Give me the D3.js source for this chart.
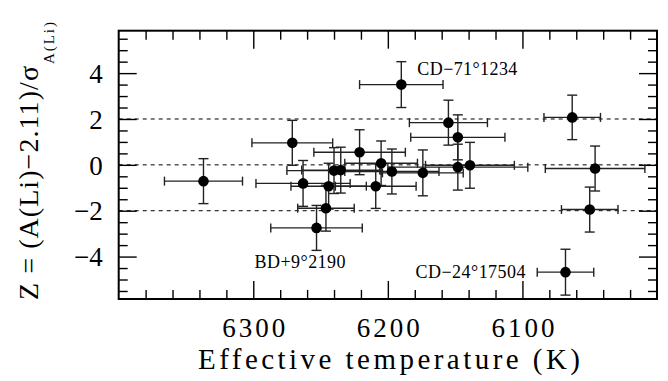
<!DOCTYPE html>
<html>
<head>
<meta charset="utf-8">
<script src="https://cdn.jsdelivr.net/npm/d3@7"></script>
<style>
  body { margin: 0; background: #fff; }
  svg { display: block; }
  text { font-family: "Liberation Serif", "Times New Roman", serif; fill: #000; }
</style>
</head>
<body>
<svg id="chart" width="668" height="381"></svg>
<script>
// effective temperature (K), Z value, and their errors
const teff  = [6337, 6271, 6190, 6221, 6205, 6197, 6240, 6235, 6263, 6244, 6209, 6246, 6253,
               6155, 6148, 6148, 6139, 6174, 6063, 6046, 6050, 6068];
const zval  = [-0.71, 0.96, 3.50, 0.55, 0.07, -0.29, -0.25, -0.23, -0.81, -0.93, -0.93, -1.89, -2.75,
               1.84, 1.20, -0.10, -0.02, -0.35, 2.07, -0.16, -1.95, -4.68];
const teffErr = [29, 30, 31, 34, 27, 35, 35, 29, 35, 28, 30, 21, 34,
                 29, 35, 52, 33, 30, 21, 37, 21, 21];
const zErr  = [0.98, 0.98, 1.0, 0.98, 0.97, 0.98, 1.0, 1.0, 1.0, 1.0, 0.97, 1.0, 0.98,
               0.98, 0.98, 1.0, 1.0, 1.0, 0.97, 0.98, 0.98, 1.0];

const xMajor = [6300, 6200, 6100];
const yMajor = [-4, -2, 0, 2, 4];
const refLines = [-2, 0, 2];

const labels = [
  { name: "CD\u221271\u00b01234", t: 6190, z: 3.50 },
  { name: "BD+9\u00b02190", t: 6253, z: -2.75 },
  { name: "CD\u221224\u00b017504", t: 6068, z: -4.68 }
];

const points = teff.map((t, i) => ({ t: t, z: zval[i], et: teffErr[i], ez: zErr[i] }));

const svg = d3.select("#chart");
const pLeft = 118.7, pRight = 657, pTop = 30.7, pBottom = 299;

const x = d3.scaleLinear().domain([6400, 6000]).range([pLeft, pRight]);
const y = d3.scaleLinear().domain([-5.85, 5.85]).range([pBottom, pTop]);

const minorX = d3.range(6000, 6401, 20).filter(v => v % 100 !== 0);
const minorY = d3.range(-5.5, 5.51, 0.5).filter(v => Math.abs(v % 2) > 0.01);

// reference dashed lines
svg.append("g")
  .selectAll("line")
  .data(refLines)
  .enter().append("line")
  .attr("x1", pLeft).attr("x2", pRight)
  .attr("y1", d => y(d)).attr("y2", d => y(d))
  .attr("stroke", "#000")
  .attr("stroke-width", 1)
  .attr("stroke-dasharray", "4,4");

function styleAxis(g) {
  g.select(".domain").remove();
  g.selectAll(".tick line").attr("stroke", "#000").attr("stroke-width", 1.4);
}

// major ticks with labels
svg.append("g")
  .attr("transform", `translate(0,${pBottom})`)
  .call(d3.axisBottom(x).tickValues(xMajor).tickSize(-18).tickPadding(18.5).tickFormat(d3.format("d")))
  .call(styleAxis)
  .selectAll("text")
  .attr("font-size", 27)
  .attr("textLength", 63)
  .attr("lengthAdjust", "spacing");

svg.append("g")
  .attr("transform", `translate(${pLeft},0)`)
  .call(d3.axisLeft(y).tickValues(yMajor).tickSize(-18).tickPadding(16).tickFormat(d3.format("d")))
  .call(styleAxis)
  .selectAll("text")
  .attr("font-size", 27)
  .attr("dy", "0.34em");

// mirrored majors and all minors
svg.append("g").attr("transform", `translate(0,${pTop})`)
  .call(d3.axisTop(x).tickValues(xMajor).tickSize(-18).tickFormat(""))
  .call(styleAxis);
svg.append("g").attr("transform", `translate(${pRight},0)`)
  .call(d3.axisRight(y).tickValues(yMajor).tickSize(-18).tickFormat(""))
  .call(styleAxis);
svg.append("g").attr("transform", `translate(0,${pBottom})`)
  .call(d3.axisBottom(x).tickValues(minorX).tickSize(-9).tickFormat(""))
  .call(styleAxis);
svg.append("g").attr("transform", `translate(0,${pTop})`)
  .call(d3.axisTop(x).tickValues(minorX).tickSize(-9).tickFormat(""))
  .call(styleAxis);
svg.append("g").attr("transform", `translate(${pLeft},0)`)
  .call(d3.axisLeft(y).tickValues(minorY).tickSize(-9).tickFormat(""))
  .call(styleAxis);
svg.append("g").attr("transform", `translate(${pRight},0)`)
  .call(d3.axisRight(y).tickValues(minorY).tickSize(-9).tickFormat(""))
  .call(styleAxis);

// frame
svg.append("rect")
  .attr("x", pLeft).attr("y", pTop)
  .attr("width", pRight - pLeft).attr("height", pBottom - pTop)
  .attr("fill", "none")
  .attr("stroke", "#000")
  .attr("stroke-width", 2);

// error bars
const bars = svg.append("g").attr("stroke", "#222").attr("stroke-width", 1.4);
const capX = 4.5, capY = 5;

bars.selectAll(".hbar").data(points).enter().append("line")
  .attr("x1", d => x(d.t + d.et)).attr("x2", d => x(d.t - d.et))
  .attr("y1", d => y(d.z)).attr("y2", d => y(d.z));
bars.selectAll(".hcapl").data(points).enter().append("line")
  .attr("x1", d => x(d.t + d.et)).attr("x2", d => x(d.t + d.et))
  .attr("y1", d => y(d.z) - capX).attr("y2", d => y(d.z) + capX);
bars.selectAll(".hcapr").data(points).enter().append("line")
  .attr("x1", d => x(d.t - d.et)).attr("x2", d => x(d.t - d.et))
  .attr("y1", d => y(d.z) - capX).attr("y2", d => y(d.z) + capX);
bars.selectAll(".vbar").data(points).enter().append("line")
  .attr("x1", d => x(d.t)).attr("x2", d => x(d.t))
  .attr("y1", d => y(d.z + d.ez)).attr("y2", d => y(d.z - d.ez));
bars.selectAll(".vcapt").data(points).enter().append("line")
  .attr("x1", d => x(d.t) - capY).attr("x2", d => x(d.t) + capY)
  .attr("y1", d => y(d.z + d.ez)).attr("y2", d => y(d.z + d.ez));
bars.selectAll(".vcapb").data(points).enter().append("line")
  .attr("x1", d => x(d.t) - capY).attr("x2", d => x(d.t) + capY)
  .attr("y1", d => y(d.z - d.ez)).attr("y2", d => y(d.z - d.ez));

// points
svg.append("g")
  .selectAll("circle")
  .data(points)
  .enter().append("circle")
  .attr("cx", d => x(d.t))
  .attr("cy", d => y(d.z))
  .attr("r", 5.3)
  .attr("fill", "#000");

// star labels
const labelPos = [
  { dx: 16, dy: -10, len: 100 },
  { dx: -62, dy: 40, len: 91 },
  { dx: -150, dy: 6, len: 110 }
];
svg.append("g")
  .selectAll("text")
  .data(labels)
  .enter().append("text")
  .attr("x", (d, i) => x(d.t) + labelPos[i].dx)
  .attr("y", (d, i) => y(d.z) + labelPos[i].dy)
  .attr("font-size", 18)
  .attr("textLength", (d, i) => labelPos[i].len)
  .attr("lengthAdjust", "spacing")
  .text(d => d.name);

// axis titles
svg.append("text")
  .attr("x", 389).attr("y", 369)
  .attr("text-anchor", "middle")
  .attr("font-size", 29)
  .attr("textLength", 382)
  .attr("lengthAdjust", "spacing")
  .text("Effective temperature (K)");

svg.append("text")
  .attr("transform", "translate(38,300) rotate(-90)")
  .attr("font-size", 28)
  .attr("textLength", 234)
  .attr("lengthAdjust", "spacing")
  .text("Z = (A(Li)\u22122.11)/\u03c3");

svg.append("text")
  .attr("transform", "translate(54,64) rotate(-90)")
  .attr("font-size", 15)
  .attr("textLength", 42)
  .attr("lengthAdjust", "spacing")
  .text("A(Li)");
</script>
</body>
</html>
